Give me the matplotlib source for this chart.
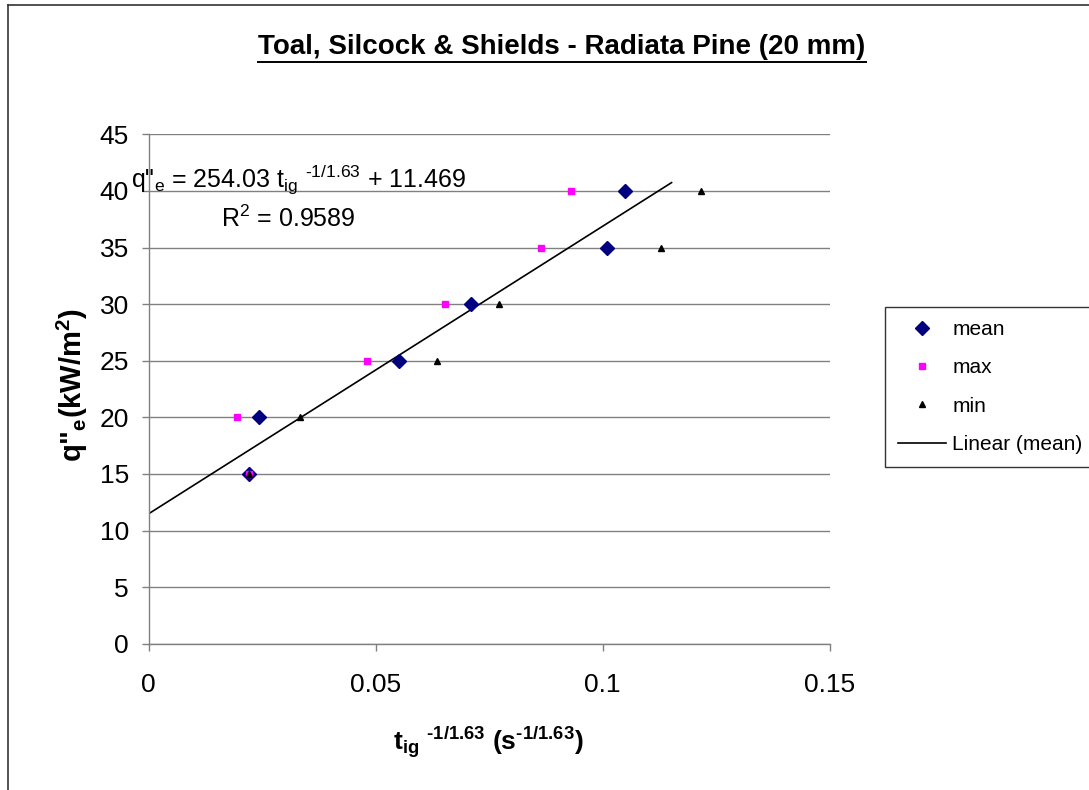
import matplotlib
matplotlib.use("Agg")
import matplotlib.pyplot as plt
from matplotlib.lines import Line2D
import numpy as np

plt.rcParams['font.family'] = ['Liberation Sans', 'DejaVu Sans']
plt.rcParams['mathtext.fontset'] = 'custom'
plt.rcParams['mathtext.rm'] = 'Liberation Sans'
plt.rcParams['mathtext.it'] = 'Liberation Sans:italic'
plt.rcParams['mathtext.bf'] = 'Liberation Sans:bold'
plt.rcParams['mathtext.default'] = 'rm'

# ---- data ----
heat_flux = [15, 20, 25, 30, 35, 40]
mean_x = [0.0221, 0.0243, 0.0552, 0.0710, 0.1010, 0.1050]
max_x = [0.0221, 0.0195, 0.0481, 0.0653, 0.0864, 0.0931]
min_x = [0.0221, 0.0334, 0.0636, 0.0771, 0.1129, 0.1217]
fit_slope = 254.03
fit_intercept = 11.469
fit_r2 = 0.9589
fit_x_range = [0.0, 0.1152]
x_ticks = [0, 0.05, 0.1, 0.15]
x_tick_labels = ['0', '0.05', '0.1', '0.15']
y_ticks = list(range(0, 50, 5))

W, H = 1089, 790
fig = plt.figure(figsize=(W / 100, H / 100), dpi=100)
fig.patch.set_facecolor('white')

def fx(px):
    return px / W

def fy(py):
    return 1 - py / H

ax = fig.add_axes([fx(148.5), fy(643.7), fx(829.6) - fx(148.5), fy(134.3) - fy(643.7)])
ax.set_xlim(0, 0.15)
ax.set_ylim(0, 45)
ax.set_facecolor('white')

for s in ['top', 'right']:
    ax.spines[s].set_visible(False)
for s in ['left', 'bottom']:
    ax.spines[s].set_color('#808080')
    ax.spines[s].set_linewidth(1.0)

ax.set_yticks(y_ticks)
ax.set_yticklabels([str(v) for v in y_ticks])
ax.set_xticks(x_ticks)
ax.set_xticklabels(x_tick_labels)
ax.tick_params(axis='y', direction='out', length=5, width=1.0, color='#808080',
               labelsize=19, pad=9)
ax.tick_params(axis='x', direction='out', length=5, width=1.0, color='#808080',
               labelsize=19, pad=16)
ax.yaxis.grid(True, color='#808080', linewidth=1.0)
ax.set_axisbelow(True)

# trendline
fx_line = np.array(fit_x_range)
ax.plot(fx_line, fit_slope * fx_line + fit_intercept, color='black', lw=1.2,
        zorder=2, label='Linear (mean)')

h_mean, = ax.plot(mean_x, heat_flux, linestyle='none', marker='D', ms=7.2,
                  color='#000080', mec='#000080', zorder=3, label='mean')
h_max, = ax.plot(max_x, heat_flux, linestyle='none', marker='s', ms=4.2,
                 color='#FF00FF', mec='#FF00FF', zorder=4, label='max')
h_min, = ax.plot(min_x, heat_flux, linestyle='none', marker='^', ms=4.6,
                 color='black', mec='black', zorder=5, label='min')
h_lin = Line2D([], [], color='black', lw=1.2)

leg = ax.legend([h_mean, h_max, h_min, h_lin], ['mean', 'max', 'min', 'Linear (mean)'],
                loc='upper left', bbox_to_anchor=(fx(885), fy(307)),
                bbox_transform=fig.transFigure, borderaxespad=0,
                fontsize=15, frameon=True, fancybox=False, shadow=False,
                handlelength=2.3, handletextpad=0.3, borderpad=0.62,
                labelspacing=0.93)
leg.get_frame().set_edgecolor('black')
leg.get_frame().set_linewidth(1.0)

# title
t_obj = fig.text(fx(562), fy(47), 'Toal, Silcock & Shields - Radiata Pine (20 mm)',
                 ha='center', va='center', fontsize=20, fontweight='bold')
fig.canvas.draw()
bb = t_obj.get_window_extent()
fig.add_artist(Line2D([bb.x0 / W, bb.x1 / W], [fy(62), fy(62)], color='black', lw=1.4,
                      transform=fig.transFigure))

HY = '\u2010'
# axis labels
fig.text(fx(72), fy(385), r'q"$_{\mathbf{e}}$(kW/m$^{\mathbf{2}}$)', rotation=90,
         ha='center', va='center', fontsize=21, fontweight='bold')
fig.text(fx(488), fy(742),
         r'$\mathbf{t_{ig}}$ ${}^{\mathbf{' + HY + r'1/1.63}}$ (s${}^{\mathbf{' + HY + r'1/1.63}}$)',
         ha='center', va='center', fontsize=19, fontweight='bold')

# equation annotations
fig.text(fx(131), fy(187), r'q"$_{e}$ = 254.03 t$_{ig}$ ${}^{' + HY + r'1/1.63}$ + 11.469',
         ha='left', va='baseline', fontsize=18)
fig.text(fx(221), fy(227), r'R$^{2}$ = ' + f'{fit_r2}', ha='left', va='baseline', fontsize=18)

# outer chart border (left and top)
fig.add_artist(Line2D([fx(8), fx(8)], [fy(5), 0], color='#333333', lw=1.2,
                      transform=fig.transFigure))
fig.add_artist(Line2D([fx(8), 1], [fy(5), fy(5)], color='#333333', lw=1.2,
                      transform=fig.transFigure))

fig.savefig('out.png', dpi=100, facecolor='white')
